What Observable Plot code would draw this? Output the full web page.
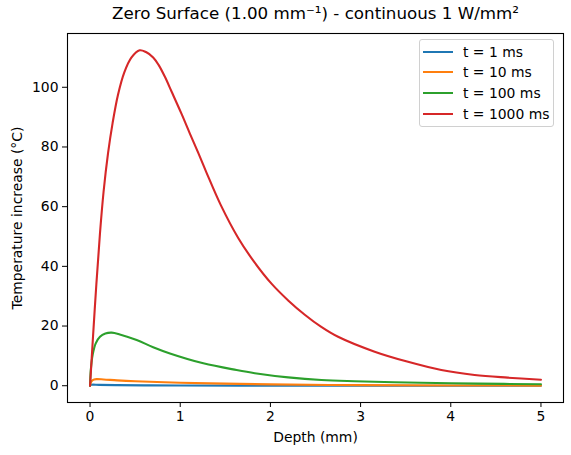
<!DOCTYPE html>
<html>
<head>
<meta charset="utf-8">
<script src="https://cdn.jsdelivr.net/npm/d3@7"></script>
<script src="https://cdn.jsdelivr.net/npm/@observablehq/plot@0.6"></script>
<style>
  html, body { margin: 0; padding: 0; background: #fff; }
  #chart { position: relative; width: 571px; height: 455px; font-family: "DejaVu Sans", sans-serif; }
  #legend {
    position: absolute; left: 419px; top: 39px; width: 135px; height: 88px;
    box-sizing: border-box; border: 1px solid #d0d0d0; border-radius: 3px;
    background: rgba(255,255,255,0.8);
  }
  #legend .row { position: absolute; left: 0; height: 20px; display: flex; align-items: center; }
  #legend .swatch { width: 30px; height: 2px; margin-left: 3px; margin-right: 10px; }
  #legend .lbl { font-size: 13.9px; color: #000; white-space: pre; }
</style>
</head>
<body>
<div id="chart"></div>
<script>
// Temperature rise vs depth after 1, 10, 100 and 1000 ms of continuous heating
const seriesNames = ["t = 1 ms", "t = 10 ms", "t = 100 ms", "t = 1000 ms"];
const seriesColors = ["#1f77b4", "#ff7f0e", "#2ca02c", "#d62728"];

const depth1ms = [0, 0.005, 0.02, 0.1, 0.3, 0.6, 1, 2, 3, 5];
const temp1ms  = [0, 0.25, 0.35, 0.3, 0.2, 0.12, 0.07, 0.02, 0.01, 0];

const depth10ms = [0, 0.01, 0.03, 0.07, 0.15, 0.3, 0.5, 1, 1.5, 2, 3, 4, 5];
const temp10ms  = [0, 1.2, 1.9, 2.2, 2.1, 1.8, 1.5, 1.0, 0.7, 0.45, 0.2, 0.1, 0.05];

const depth100ms = [0, 0.008, 0.03, 0.063, 0.11, 0.17, 0.24, 0.33, 0.517, 0.7, 0.886, 1.256, 1.625, 1.827, 2.197, 2.566, 2.935, 3.67, 4.3, 5.0];
const temp100ms  = [0, 5.2, 10.5, 14.2, 16.4, 17.5, 17.8, 17.2, 15.3, 12.9, 10.8, 7.5, 5.25, 4.2, 2.8, 1.9, 1.5, 1.0, 0.7, 0.5];

const depth1000ms = [0, 0.03, 0.07, 0.11, 0.15, 0.20, 0.25, 0.31, 0.38, 0.46, 0.55, 0.62, 0.70, 0.76, 0.83, 0.905, 1.016, 1.107, 1.2, 1.29, 1.45, 1.643, 1.82, 2.012, 2.2, 2.381, 2.56, 2.75, 3.156, 3.526, 3.895, 4.264, 4.633, 5.0];
const temp1000ms  = [0, 15, 34, 51, 65, 78, 88, 97.5, 105, 110, 112.4, 111.8, 110.0, 107.5, 103.5, 98.5, 91.0, 84.5, 78, 71.5, 60.5, 49.5, 41.5, 34.2, 28.5, 23.8, 19.8, 16.4, 11.4, 8.0, 5.25, 3.6, 2.7, 2.0];

const xTicks = [0, 1, 2, 3, 4, 5];
const yTicks = [0, 20, 40, 60, 80, 100];

const depths = [depth1ms, depth10ms, depth100ms, depth1000ms];
const temps = [temp1ms, temp10ms, temp100ms, temp1000ms];

const rows = seriesNames.flatMap((name, i) =>
  depths[i].map((d, j) => ({series: name, depth: d, temp: temps[i][j]}))
);

// 5% padding around the data extent on both axes
const pad = ([a, b]) => [a - 0.05 * (b - a), b + 0.05 * (b - a)];
const xDomain = pad(d3.extent(rows, r => r.depth));
const yDomain = pad(d3.extent(rows, r => r.temp));

const plot = Plot.plot({
  width: 571,
  height: 455,
  marginTop: 33,
  marginBottom: 53,
  marginLeft: 67,
  marginRight: 8,
  style: {fontFamily: "DejaVu Sans, sans-serif", fontSize: "13.9px", color: "#000", background: "#fff"},
  x: {domain: xDomain, ticks: xTicks, label: null},
  y: {domain: yDomain, ticks: yTicks, label: null},
  marks: [
    ...seriesNames.map((name, i) =>
      Plot.line(rows.filter(r => r.series === name), {
        x: "depth", y: "temp", stroke: seriesColors[i],
        strokeWidth: 2.1, curve: "catmull-rom"
      })
    ),
    Plot.frame({stroke: "#000", strokeWidth: 1.1}),
    Plot.axisX({ticks: xTicks, tickSize: 5, tickPadding: 4, tickFormat: d3.format("d"), label: null, fontSize: 13.9}),
    Plot.axisY({ticks: yTicks, tickSize: 5, tickPadding: 4, tickFormat: d3.format("d"), label: null, fontSize: 13.9}),
    Plot.text(["Zero Surface (1.00 mm⁻¹) - continuous 1 W/mm²"], {
      frameAnchor: "top", dy: -20, lineAnchor: "middle", fontSize: 16.7, fill: "#000"
    }),
    Plot.text(["Depth (mm)"], {
      frameAnchor: "bottom", dy: 35, lineAnchor: "middle", fontSize: 13.9, fill: "#000"
    }),
    Plot.text(["Temperature increase (°C)"], {
      frameAnchor: "left", dx: -50, rotate: -90, textAnchor: "middle", lineAnchor: "middle", fontSize: 13.9, fill: "#000"
    })
  ]
});

const chart = document.getElementById("chart");
chart.appendChild(plot);

// Legend box in the upper right corner of the axes
const legend = document.createElement("div");
legend.id = "legend";
seriesNames.forEach((name, i) => {
  const row = document.createElement("div");
  row.className = "row";
  row.style.top = (1.5 + i * 20.9) + "px";
  const sw = document.createElement("div");
  sw.className = "swatch";
  sw.style.background = seriesColors[i];
  const lbl = document.createElement("span");
  lbl.className = "lbl";
  lbl.textContent = name;
  row.appendChild(sw);
  row.appendChild(lbl);
  legend.appendChild(row);
});
chart.appendChild(legend);
</script>
</body>
</html>
